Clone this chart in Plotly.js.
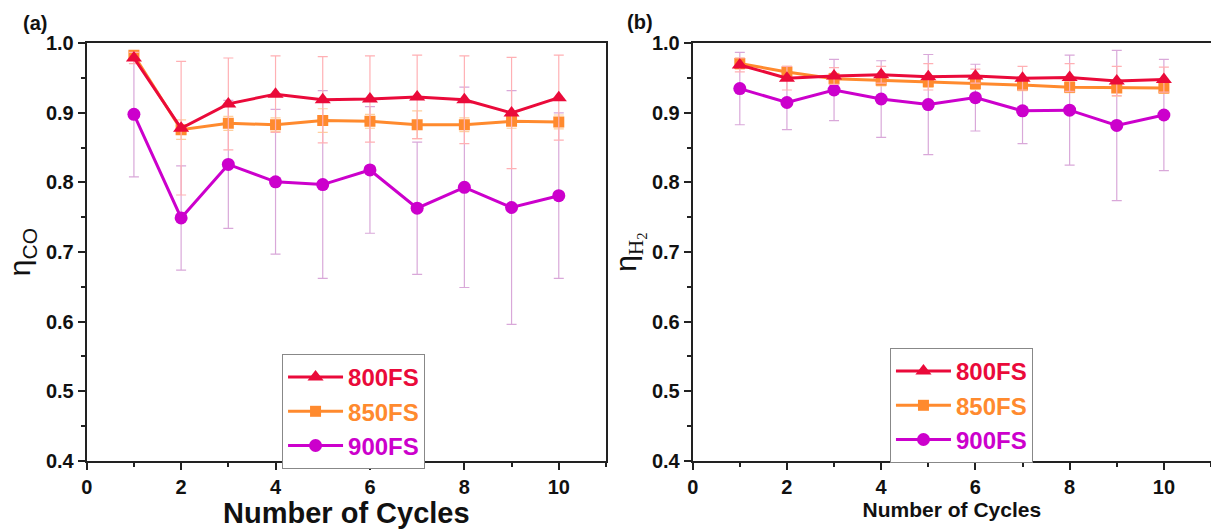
<!DOCTYPE html>
<html>
<head>
<meta charset="utf-8">
<script src="https://cdn.plot.ly/plotly-3.0.1.min.js"></script>
<style>
html,body{margin:0;padding:0;background:#fff;}
#chart{width:1211px;height:529px;}
</style>
</head>
<body>
<div id="chart"></div>
<script>
// ---- data ----
const cycles = [1, 2, 3, 4, 5, 6, 7, 8, 9, 10];
const seriesNames = ["800FS", "850FS", "900FS"];

// (a) CO efficiency
const co800 = [0.979, 0.878, 0.913, 0.927, 0.919, 0.920, 0.923, 0.919, 0.900, 0.922];
const co800Err = [0.008, 0.096, 0.066, 0.055, 0.062, 0.062, 0.060, 0.063, 0.080, 0.061];
const co850 = [0.983, 0.876, 0.885, 0.883, 0.889, 0.888, 0.883, 0.883, 0.888, 0.887];
const co850Err = [0.006, 0.014, 0.010, 0.010, 0.017, 0.010, 0.020, 0.010, 0.010, 0.010];
const co900 = [0.898, 0.749, 0.826, 0.801, 0.797, 0.818, 0.763, 0.793, 0.764, 0.781];
const co900Err = [0.090, 0.075, 0.092, 0.104, 0.135, 0.091, 0.095, 0.144, 0.168, 0.119];

// (b) H2 efficiency
const h800 = [0.969, 0.950, 0.953, 0.955, 0.952, 0.953, 0.950, 0.951, 0.946, 0.948];
const h800Err = [0.010, 0.017, 0.012, 0.012, 0.019, 0.010, 0.017, 0.020, 0.021, 0.018];
const h850 = [0.971, 0.959, 0.949, 0.947, 0.945, 0.942, 0.940, 0.937, 0.936, 0.936];
const h850Err = [0.008, 0.008, 0.008, 0.008, 0.008, 0.008, 0.008, 0.008, 0.012, 0.008];
const h900 = [0.935, 0.915, 0.933, 0.920, 0.912, 0.922, 0.903, 0.904, 0.882, 0.897];
const h900Err = [0.052, 0.039, 0.044, 0.055, 0.072, 0.048, 0.047, 0.079, 0.108, 0.080];

// ---- styles ----
const colors = ["#EA0A3A", "#FF8A2E", "#CC00CC"];
const errColors = ["#FFB0B4", "#FFCF9E", "#D9A8D9"];
const symbols = ["triangle-up", "square", "circle"];
const sizes = [14, 11, 13];
const FONT = "Arial, Liberation Sans, sans-serif";

function mk(i, y, err, xa, ya, lg) {
  return {
    type: "scatter", mode: "lines+markers",
    x: cycles, y: y,
    xaxis: xa, yaxis: ya,
    name: '<span style="color:' + colors[i] + '">' + seriesNames[i] + '</span>',
    legend: lg, legendrank: i + 1, showlegend: true,
    line: {color: colors[i], width: 3},
    marker: {color: colors[i], symbol: symbols[i], size: sizes[i]},
    error_y: {type: "data", array: err, visible: true, color: errColors[i], thickness: 1.2, width: 5}
  };
}

const data = [
  mk(2, co900, co900Err, "x", "y", "legend"),
  mk(1, co850, co850Err, "x", "y", "legend"),
  mk(0, co800, co800Err, "x", "y", "legend"),
  mk(2, h900, h900Err, "x2", "y2", "legend2"),
  mk(1, h850, h850Err, "x2", "y2", "legend2"),
  mk(0, h800, h800Err, "x2", "y2", "legend2")
];

const tickFont = {family: FONT, size: 20, color: "#111", weight: "bold"};
function xax(domain, titleSize, anchor) {
  return {
    anchor: anchor, domain: domain, range: [0, 11], tick0: 0, dtick: 2,
    ticks: "outside", ticklen: 7, tickwidth: 2, tickcolor: "#222",
    minor: {dtick: 1, ticks: "outside", ticklen: 4, tickwidth: 2, tickcolor: "#222"},
    showline: true, linecolor: "#222", linewidth: 2, mirror: true,
    showgrid: false, zeroline: false, tickfont: tickFont,
    title: {text: "Number of Cycles", standoff: 6,
      font: {family: FONT, size: titleSize, color: "#111", weight: "bold"}}
  };
}
function yax(anchor, titleText) {
  return {
    anchor: anchor, domain: [0.1291, 0.918], range: [0.4, 1.0], dtick: 0.1, tickformat: ".1f",
    ticks: "outside", ticklen: 7, tickwidth: 2, tickcolor: "#222",
    minor: {dtick: 0.05, ticks: "outside", ticklen: 4, tickwidth: 2, tickcolor: "#222"},
    showline: true, linecolor: "#222", linewidth: 2, mirror: true,
    showgrid: false, zeroline: false, tickfont: tickFont,
    title: {text: titleText, standoff: 6,
      font: {family: FONT, size: 30, color: "#111"}}
  };
}

const legFont = {family: FONT, size: 24, weight: "bold"};
const layout = {
  width: 1211, height: 529,
  margin: {l: 0, r: 0, t: 0, b: 0},
  paper_bgcolor: "#fff", plot_bgcolor: "#fff",
  xaxis: xax([0.0716, 0.5004], 29, "y"),
  yaxis: yax("x", "η<sub>CO</sub>"),
  xaxis2: xax([0.572, 1.0], 21, "y2"),
  yaxis2: yax("x2", 'η<sub><span style="font-family:Liberation Serif">H<sub>2</sub></span></sub>'),
  legend: {x: 0.2329, y: 1 - 354 / 529, xanchor: "left", yanchor: "top", bgcolor: "#fff",
    bordercolor: "#888", borderwidth: 1, font: legFont, traceorder: "normal", itemwidth: 55},
  legend2: {x: 0.7349, y: 1 - 348 / 529, xanchor: "left", yanchor: "top", bgcolor: "#fff",
    bordercolor: "#888", borderwidth: 1, font: legFont, traceorder: "normal", itemwidth: 55},
  annotations: [
    {text: "(a)", xref: "paper", yref: "paper", x: 35 / 1211, y: 1 - 23 / 529,
      xanchor: "center", yanchor: "middle", showarrow: false,
      font: {family: FONT, size: 20, color: "#111", weight: "bold"}},
    {text: "(b)", xref: "paper", yref: "paper", x: 640 / 1211, y: 1 - 22 / 529,
      xanchor: "center", yanchor: "middle", showarrow: false,
      font: {family: FONT, size: 20, color: "#111", weight: "bold"}}
  ],
  showlegend: true
};

Plotly.newPlot("chart", data, layout, {displayModeBar: false, staticPlot: true});
</script>
</body>
</html>
